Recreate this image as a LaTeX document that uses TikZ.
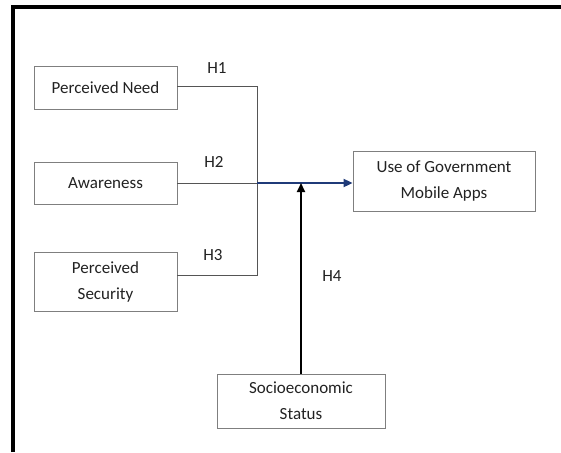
\documentclass[tikz,border=0pt]{standalone}
\usepackage{fontspec}
\setmainfont{Carlito}
\usetikzlibrary{arrows.meta}
\definecolor{boxgray}{HTML}{7F7F7F}
\definecolor{linegray}{HTML}{555555}
\definecolor{navy}{HTML}{1F3A78}
\definecolor{txt}{HTML}{222222}
\begin{document}
\begin{tikzpicture}[x=1pt,y=-1pt,
  box/.style={draw=boxgray, line width=0.9pt, rectangle, align=center, text=txt,
    font=\fontsize{17}{26}\selectfont, inner sep=0pt},
  hlab/.style={text=txt, font=\fontsize{17}{20}\selectfont, inner sep=0pt},
  conn/.style={draw=linegray, line width=0.9pt},
  tip/.style={-{Triangle[length=9pt,width=8pt]}}]
\useasboundingbox (0,0) rectangle (561,452);
\fill[white] (0,0) rectangle (561,452);
\draw[line width=4pt] (12.5,452) -- (12.5,7) -- (561,7);

\node[box, minimum width=143pt, minimum height=43pt] (pn) at (105.5,87.5) {Perceived Need};
\node[box, minimum width=143pt, minimum height=42pt] (aw) at (105.5,183.5) {Awareness};
\node[box, minimum width=143pt, minimum height=59pt] (ps) at (105.5,281.5) {Perceived\\Security};
\node[box, minimum width=182pt, minimum height=60pt] (gov) at (444,181) {Use of Government\\Mobile Apps};
\node[box, minimum width=168pt, minimum height=54pt] (ses) at (301,401) {Socioeconomic\\Status};

\coordinate (j) at (257,183);
\draw[conn] (pn.east |- 0,86) -| (j);
\draw[conn] (ps.east |- 0,275) -| (j);
\draw[conn] (aw.east |- j) -- (j);
\draw[draw=navy, line width=2pt, tip, navy] (j) -- (gov.west |- j);
\draw[line width=2pt, tip] (ses.north) -- (ses.north |- j);

\node[hlab] (h1) at (217,68) {H1};
\node[hlab] (h2) at (214,162) {H2};
\node[hlab] (h3) at (213,255) {H3};
\node[hlab] (h4) at (332,276) {H4};
\end{tikzpicture}
\end{document}
